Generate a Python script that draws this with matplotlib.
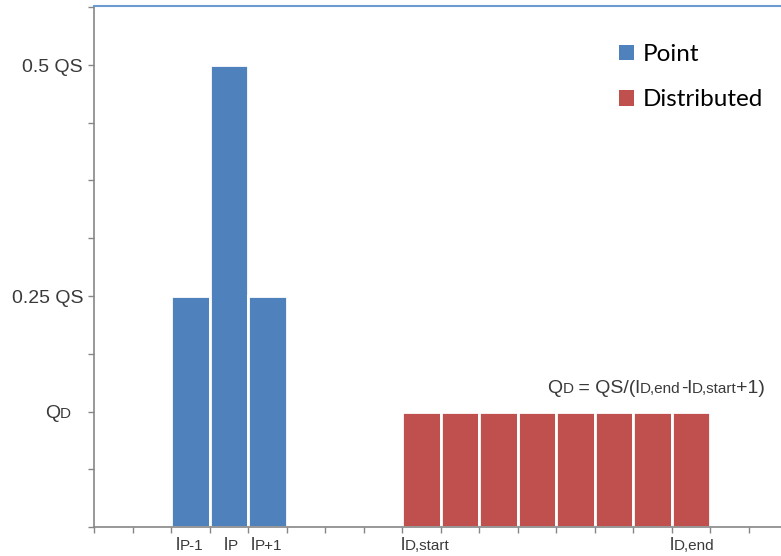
import matplotlib
matplotlib.use("Agg")
import matplotlib.pyplot as plt
from matplotlib.patches import Patch
from matplotlib.transforms import ScaledTranslation

# bar data (slot index, height in units of the y grid)
point_x = [2, 3, 4]
point_h = [4, 8, 4]
dist_x = [8, 9, 10, 11, 12, 13, 14, 15]
dist_h = [2, 2, 2, 2, 2, 2, 2, 2]

# labels: (text, is_small)
x_label_pos = [2.12, 3.37, 4.07, 7.97, 14.96]
x_labels = [
    [("l", 0), ("P-1", 1)],
    [("l", 0), ("P", 1)],
    [("l", 0), ("P+1", 1)],
    [("l", 0), ("D,start", 1)],
    [("l", 0), ("D,end", 1)],
]
formula = [("Q", 0), ("D", 1), (" = QS/(l", 0), ("D,end", 1), ("-l", 0), ("D,start", 1), ("+1)", 0)]

blue = "#4f81bd"
red = "#c0504d"
grey = "#868686"
txt = "#3a3a3a"

plt.rcParams["font.family"] = ["Liberation Sans", "DejaVu Sans"]

fig = plt.figure(figsize=(7.81, 5.56), dpi=100)
ax = fig.add_axes([94 / 781, 29 / 556, 687 / 781, 521 / 556])

ax.bar(point_x, point_h, width=1, align="edge", color=blue, edgecolor="white", linewidth=2)
ax.bar(dist_x, dist_h, width=1, align="edge", color=red, edgecolor="white", linewidth=2)

ax.set_xlim(0, 687 / 38.5)
ax.set_ylim(0, 521 / 57.75)
ax.set_xticks(range(0, 18))
ax.set_yticks(range(0, 10))
ax.set_xticklabels([])
ax.set_yticklabels([])
ax.tick_params(axis="both", direction="out", length=4.5, width=1, color=grey)

for s in ["left", "bottom"]:
    ax.spines[s].set_color(grey)
    ax.spines[s].set_linewidth(1.2)
ax.spines["right"].set_visible(False)
ax.spines["top"].set_color("#6c9bd2")
ax.spines["top"].set_linewidth(1.5)


def rich(x, y, parts, transform, big=13, small=9.5):
    s, sm = parts[0]
    prev = ax.text(x, y, s, transform=transform, fontsize=small if sm else big,
                   va="baseline", ha="left", color=txt)
    for s, sm in parts[1:]:
        prev = ax.annotate(s, xy=(1, y), xycoords=(prev, transform),
                           fontsize=small if sm else big,
                           va="baseline", ha="left", color=txt)
    return prev


# x labels
xtrans = ax.get_xaxis_transform() + ScaledTranslation(0, -0.23, fig.dpi_scale_trans)
for pos, parts in zip(x_label_pos, x_labels):
    rich(pos, 0, parts, xtrans, big=13.5, small=11)

# y labels
ytrans = ax.get_yaxis_transform() + ScaledTranslation(-0.11, -0.068, fig.dpi_scale_trans)
ax.text(0, 8, "0.5 QS", transform=ytrans, ha="right", va="baseline", fontsize=14, color=txt)
ax.text(0, 4, "0.25 QS", transform=ytrans, ha="right", va="baseline", fontsize=14, color=txt)
qtrans = ax.get_yaxis_transform() + ScaledTranslation(-0.49, -0.068, fig.dpi_scale_trans)
rich(0, 2, [("Q", 0), ("D", 1)], qtrans, big=14, small=11)

# formula above the distributed bars
rich(11.77, 2.32, formula, ax.transData, big=14, small=11)

handles = [Patch(facecolor=blue, edgecolor="none", label="Point"),
           Patch(facecolor=red, edgecolor="none", label="Distributed")]
ax.legend(handles=handles, loc="upper left", bbox_to_anchor=(619 / 781, 1 - 44 / 556),
          bbox_transform=fig.transFigure, frameon=False, borderpad=0, borderaxespad=0,
          handlelength=0.62, handleheight=0.62, handletextpad=0.35, labelspacing=1.0,
          prop={"family": ["Lato", "DejaVu Sans"], "size": 17.5})

fig.savefig("out.png", dpi=100)
